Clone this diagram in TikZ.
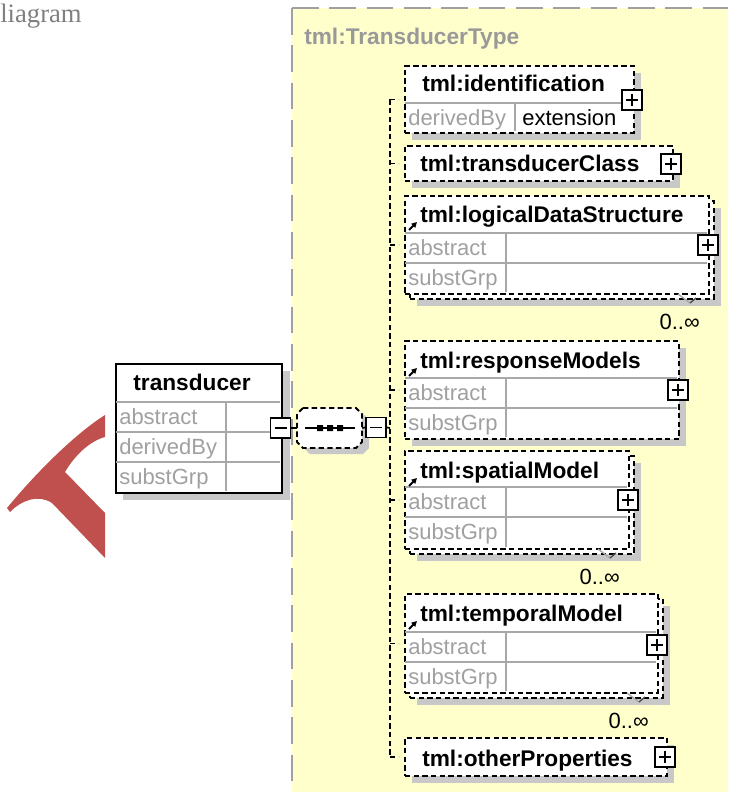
\documentclass[tikz,border=0pt]{standalone}
\usepackage{fontspec}
\setmainfont{Liberation Sans}
\newfontfamily\captionserif{Liberation Serif}
\usetikzlibrary{arrows.meta}

\definecolor{regionfill}{HTML}{FFFFCC}
\definecolor{regionedge}{HTML}{A0A0A0}
\definecolor{shadowgray}{HTML}{C8C8C8}
\definecolor{attrtext}{HTML}{A0A0A0}
\definecolor{gridline}{HTML}{A8A8A8}
\definecolor{typelabel}{HTML}{999999}
\definecolor{ribbonred}{HTML}{C0504D}
\definecolor{captiongray}{HTML}{808080}

% one drawing unit = one pixel = 0.75pt
\def\P{0.75pt}

\tikzset{
  elemframe/.style={rectangle, draw=black, fill=white, line width=1.4pt,
    dash pattern=on 4pt off 2.5pt, inner sep=0pt, anchor=north west},
  solidframe/.style={rectangle, draw=black, fill=white, line width=1.6pt,
    inner sep=0pt, anchor=north west},
  grid/.style={draw=gridline, line width=1.1pt},
  namelabel/.style={inner sep=0pt, anchor=base west,
    font=\fontsize{17}{20}\selectfont\bfseries},
  attrlabel/.style={inner sep=0pt, anchor=base west, text=attrtext,
    font=\fontsize{16.5}{19}\selectfont},
  valuelabel/.style={inner sep=0pt, anchor=base west,
    font=\fontsize{16.5}{19}\selectfont},
  occurs/.style={inner sep=0pt, anchor=base east,
    font=\fontsize{16.5}{19}\selectfont},
  togglebox/.style={rectangle, draw=black, fill=white, line width=1.4pt,
    minimum size=20*\P, inner sep=0pt},
  plusbox/.style={togglebox, path picture={
      \draw[line width=1.3pt] ([xshift=3pt]path picture bounding box.west)
        -- ([xshift=-3pt]path picture bounding box.east);
      \draw[line width=1.3pt] ([yshift=-3pt]path picture bounding box.north)
        -- ([yshift=3pt]path picture bounding box.south);}},
  minusbox/.style={togglebox, path picture={
      \draw[line width=1.3pt] ([xshift=3pt]path picture bounding box.west)
        -- ([xshift=-3pt]path picture bounding box.east);}},
  link/.style={draw=black, line width=1.3pt},
  trunkline/.style={draw=black, line width=1.3pt, dash pattern=on 4pt off 2.5pt},
  stubline/.style={trunkline, shorten >=4pt},
  refmark/.style={draw=black, line width=1.4pt, -{Triangle[length=4pt,width=4pt]}},
  ticklight/.style={draw=gridline, line width=1pt},
  tickdark/.style={draw=black!70, line width=1pt},
}

% single element box with drop shadow: name, x1, y1, x2, y2
\newcommand\elembox[5]{%
  \fill[shadowgray] (#2+8,#3+8) rectangle (#4+8,#5+8);
  \node[elemframe, minimum width={(#4-#2)*\P}, minimum height={(#5-#3)*\P}] (#1) at (#2,#3) {};
}
% repeated element: stacked second frame behind the first
\newcommand\multibox[5]{%
  \fill[shadowgray] (#2+13,#3+13) rectangle (#4+13,#5+13);
  \node[elemframe, minimum width={(#4-#2)*\P}, minimum height={(#5-#3)*\P}] (#1-back) at (#2+5,#3+5) {};
  \node[elemframe, minimum width={(#4-#2)*\P}, minimum height={(#5-#3)*\P}] (#1) at (#2,#3) {};
}
% occurrence tick and label below a repeated element: name, right x, bottom y
\newcommand\occurrence[3]{%
  \draw[ticklight] (#2-35,#3-4) -- (#2-23,#3+5);
  \draw[tickdark] (#2-23,#3+5) -- (#2-17,#3);
  \node[occurs] (#1) at (#2-13,#3+31) {0..∞};
}

\begin{document}
\begin{tikzpicture}[x=0.75pt, y=-0.75pt]
\useasboundingbox (0,0) rectangle (728,792);

% caption fragment
\node[anchor=base west, inner sep=0pt, text=captiongray,
  font=\captionserif\fontsize{20}{24}\selectfont] (caption) at (0,23) {liagram};

% red ribbon mark
\fill[ribbonred] (105,415) .. controls (78,432) and (40,468) .. (7,508)
  -- (10,512) .. controls (22,500) and (38,494) .. (52,503)
  -- (105,558) -- (105,513) -- (65,472)
  .. controls (75,455) and (90,441) .. (105,437) -- cycle;

% complex type region
\fill[regionfill] (292,8) rectangle (728,792);
\draw[regionedge, line width=1.5pt, dash pattern=on 20pt off 8pt] (292,8) -- (292,792);
\draw[regionedge, line width=1.5pt, dash pattern=on 20pt off 8pt] (292,8) -- (728,8);
\node[anchor=base west, inner sep=0pt, text=typelabel,
  font=\fontsize{17}{20}\selectfont\bfseries] (typename) at (304,45) {tml:TransducerType};

% root element
\fill[shadowgray] (123,371) rectangle (290,500);
\node[solidframe, minimum width=166*\P, minimum height=129*\P] (transducer) at (115,363) {};
\draw[grid] (116,402) -- (280,402) (116,432) -- (280,432) (116,462) -- (280,462)
  (226,402) -- (226,491);
\node[inner sep=0pt, anchor=base, font=\fontsize{17}{20}\selectfont\bfseries]
  (transducername) at (192,390) {transducer};
\node[attrlabel] (tattr1) at (119,424) {abstract};
\node[attrlabel] (tattr2) at (119,454) {derivedBy};
\node[attrlabel] (tattr3) at (119,484) {substGrp};
\node[minusbox] (tminus) at (280.5,428) {};

% sequence compositor
\fill[shadowgray] (310,414) -- (363,414) -- (369,420) -- (369,448) -- (363,454)
  -- (310,454) -- (304,448) -- (304,420) -- cycle;
\draw[fill=white, line width=1.4pt, dash pattern=on 4pt off 2.5pt]
  (303,408) -- (356,408) -- (362,414) -- (362,442) -- (356,448)
  -- (303,448) -- (297,442) -- (297,414) -- cycle;
\node[rectangle, inner sep=0pt, minimum width=65*\P, minimum height=40*\P] (seq) at (329.5,428) {};
\draw[link] (305,428) -- (355,428);
\fill (317,425) rectangle (323,431) (327,425) rectangle (333,431) (337,425) rectangle (343,431);
\node[minusbox] (sminus) at (376,427.5) {};

\draw[link] (tminus.east) -- (seq.west);
\draw[link] (seq.east) -- (sminus.west);
\coordinate (trunk) at (390,428);
\draw[link] (sminus.east) -- (trunk);

% tml:identification
\elembox{ident}{404}{65}{633}{132}
\draw[grid] (405,103) -- (632,103) (515,103) -- (515,131);
\node[namelabel] (identname) at (422,92) {tml:identification};
\node[attrlabel] (identattr) at (408,125) {derivedBy};
\node[valuelabel] (identvalue) at (522,125) {extension};
\node[plusbox] (identplus) at (632,100) {};

% tml:transducerClass
\elembox{tclass}{404}{145}{672}{180}
\node[namelabel] (tclassname) at (420,171) {tml:transducerClass};
\node[plusbox] (tclassplus) at (671,164) {};

% tml:logicalDataStructure
\multibox{logical}{404}{195}{708}{293}
\draw[grid] (405,233) -- (707,233) (405,263) -- (707,263) (506,233) -- (506,292);
\draw[refmark] (409,230) -- (417,222);
\node[namelabel] (logicalname) at (420,222) {tml:logicalDataStructure};
\node[attrlabel] (logicalattr1) at (408,255.5) {abstract};
\node[attrlabel] (logicalattr2) at (408,285.5) {substGrp};
\node[plusbox] (logicalplus) at (708,245) {};
\occurrence{logicaloccurs}{713}{298}

% tml:responseModels
\elembox{resp}{404}{340}{678}{438}
\draw[grid] (405,378) -- (677,378) (405,408) -- (677,408) (506,378) -- (506,437);
\draw[refmark] (409,376) -- (417,368);
\node[namelabel] (respname) at (420,368) {tml:responseModels};
\node[attrlabel] (respattr1) at (408,400.5) {abstract};
\node[attrlabel] (respattr2) at (408,430.5) {substGrp};
\node[plusbox] (respplus) at (678,390) {};

% tml:spatialModel
\multibox{spatial}{404}{450}{628}{548}
\draw[grid] (405,487) -- (627,487) (405,517) -- (627,517) (506,487) -- (506,547);
\draw[refmark] (409,486) -- (417,478);
\node[namelabel] (spatialname) at (420,478) {tml:spatialModel};
\node[attrlabel] (spatialattr1) at (408,509.5) {abstract};
\node[attrlabel] (spatialattr2) at (408,539.5) {substGrp};
\node[plusbox] (spatialplus) at (628,500) {};
\occurrence{spatialoccurs}{633}{553}

% tml:temporalModel
\multibox{temporal}{404}{593}{657}{692}
\draw[grid] (405,632) -- (656,632) (405,662) -- (656,662) (506,632) -- (506,691);
\draw[refmark] (409,629) -- (417,621);
\node[namelabel] (temporalname) at (420,621) {tml:temporalModel};
\node[attrlabel] (temporalattr1) at (408,654.5) {abstract};
\node[attrlabel] (temporalattr2) at (408,684.5) {substGrp};
\node[plusbox] (temporalplus) at (657,645) {};
\occurrence{temporaloccurs}{662}{697}

% tml:otherProperties
\elembox{other}{404}{737}{666}{775}
\node[namelabel] (othername) at (422,766) {tml:otherProperties};
\node[plusbox] (otherplus) at (665,757) {};

% sequence trunk and branches
\draw[trunkline] (ident.west -| trunk) -- (other.west -| trunk);
\foreach \e in {ident, tclass, logical, resp, spatial, temporal, other}
  \draw[stubline] (\e.west -| trunk) -- (\e.west);

\end{tikzpicture}
\end{document}
